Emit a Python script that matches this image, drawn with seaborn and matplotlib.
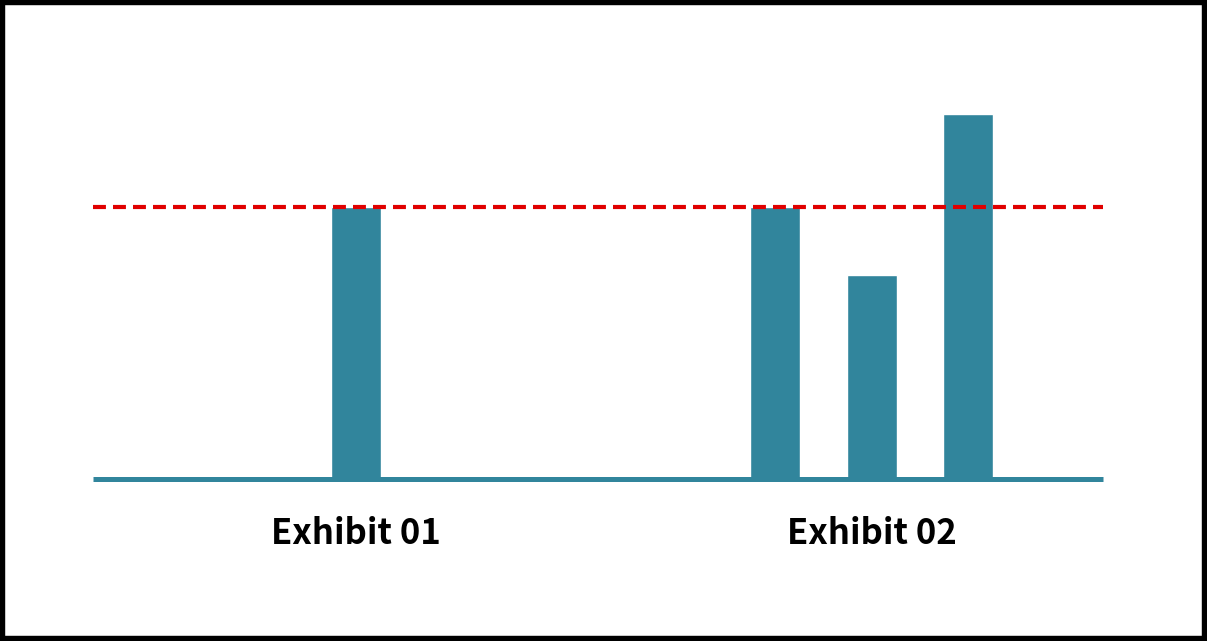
import numpy as np
import matplotlib.pyplot as plt
import seaborn as sns
import pandas as pd
from matplotlib.patches import Rectangle

# data
groups = ["Exhibit 01", "Exhibit 02"]
bar_group = ["Exhibit 01", "Exhibit 02", "Exhibit 02", "Exhibit 02"]
bar_values = [100, 100, 75, 134]
threshold = 100

teal = "#31859C"
red = "#E00000"

sns.set_theme(style="white")
plt.rcParams['font.family'] = ['Noto Sans CJK KR', 'DejaVu Sans']

# layout: group centres and bar offsets inside a group
group_centre = {"Exhibit 01": 2.725, "Exhibit 02": 8.07}
df = pd.DataFrame({"group": bar_group, "value": bar_values})
df["slot"] = df.groupby("group").cumcount()
df["n"] = df.groupby("group")["value"].transform("size")
df["x"] = df["group"].map(group_centre) + df["slot"] - (df["n"] - 1) / 2

fig = plt.figure(figsize=(12.07, 6.41), dpi=100)
ax = fig.add_axes([93 / 1207, 0.252, 1010 / 1207, 0.6377])

sns.barplot(data=df, x="x", y="value", native_scale=True, width=0.52,
            color=teal, saturation=1, ax=ax, zorder=2)

ax.set_xlim(0, 10.466)
ax.set_ylim(0, 150)

ax.axhline(0, color=teal, lw=3.6, zorder=3, clip_on=False, solid_capstyle="butt")
ax.axhline(threshold, color=red, lw=3.0, ls=(0, (3.1, 1.7)), zorder=4)

ax.set_xticks([group_centre[g] for g in groups])
ax.set_xticklabels(groups, fontsize=25, fontweight="bold", color="black")
ax.tick_params(axis="x", length=0, pad=26)
ax.set_yticks([])
ax.set_xlabel("")
ax.set_ylabel("")
sns.despine(ax=ax, left=True, bottom=True)

fig.patches.append(Rectangle((0, 0), 1, 1, transform=fig.transFigure,
                             fill=False, edgecolor="black", lw=7.5))

fig.savefig("out.png", dpi=100)
